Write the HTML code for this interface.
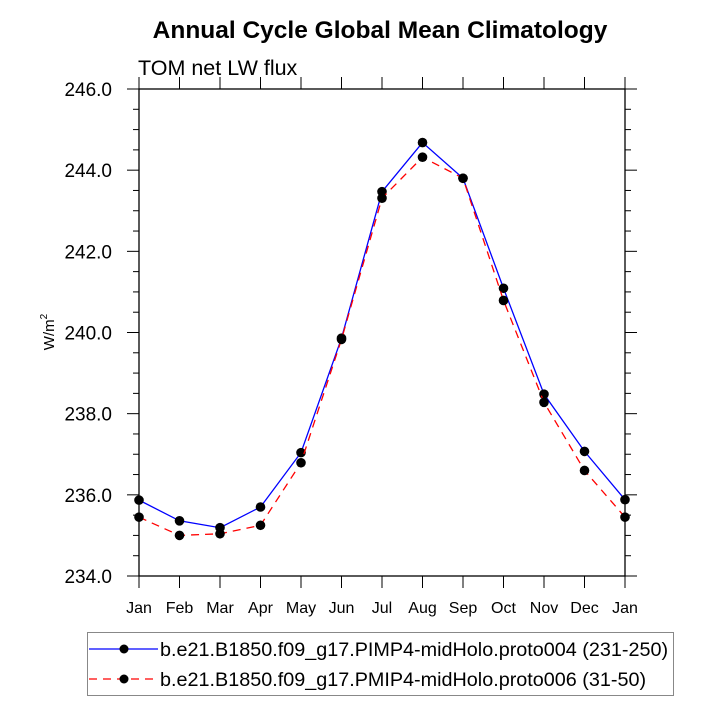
<!DOCTYPE html>
<html><head><meta charset="utf-8"><style>
body{margin:0;background:#fff}
svg{display:block;font-family:"Liberation Sans",Arial,sans-serif}
</style></head><body>
<svg id="chart" width="715" height="715" viewBox="0 0 715 715">
<text x="380" y="38" text-anchor="middle" font-size="24.5" font-weight="bold">Annual Cycle Global Mean Climatology</text>
<text x="138" y="75" font-size="21.5">TOM net LW flux</text>
<text transform="translate(54,332) rotate(-90)" text-anchor="middle" font-size="15">W/m<tspan dy="-7" font-size="10">2</tspan></text>
<g id="axes"></g>
<g id="series"></g>
<g>
<rect x="87.5" y="632.5" width="586" height="63" fill="none" stroke="#888" stroke-width="1"/>
<line x1="89" y1="649" x2="158" y2="649" stroke="#0000ff" stroke-width="1.3"/>
<circle cx="124" cy="649" r="4.5" fill="#000"/>
<text x="160" y="656" font-size="19.8">b.e21.B1850.f09_g17.PIMP4-midHolo.proto004 (231-250)</text>
<line x1="89" y1="679" x2="158" y2="679" stroke="#ff0000" stroke-width="1.3" stroke-dasharray="8,6"/>
<circle cx="124" cy="679" r="4.5" fill="#000"/>
<text x="160" y="686" font-size="19.8">b.e21.B1850.f09_g17.PMIP4-midHolo.proto006 (31-50)</text>
</g>
</svg>
<script>
const months=["Jan","Feb","Mar","Apr","May","Jun","Jul","Aug","Sep","Oct","Nov","Dec","Jan"];
const yTicks=[234,236,238,240,242,244,246];
const yTickLabels=["234.0","236.0","238.0","240.0","242.0","244.0","246.0"];
const proto004=[235.87,235.36,235.19,235.70,237.04,239.86,243.47,244.68,243.80,241.09,238.48,237.07,235.88];
const proto006=[235.45,235.00,235.04,235.25,236.79,239.83,243.31,244.32,243.80,240.79,238.28,236.60,235.45];
const L=139,R=625,T=89,B=576,yMin=234,yMax=246;
const NS="http://www.w3.org/2000/svg";
function xs(i){return L+(R-L)*i/(months.length-1);}
function ys(v){return B-(v-yMin)/(yMax-yMin)*(B-T);}
function mk(tag,attrs,parent){const e=document.createElementNS(NS,tag);for(const k in attrs)e.setAttribute(k,attrs[k]);parent.appendChild(e);return e;}
const ax=document.getElementById('axes');
const frame=mk('rect',{x:L,y:T,width:R-L,height:B-T,fill:'none',stroke:'#000','stroke-width':1.3},ax);


months.forEach((m,i)=>{
  const x=xs(i);
  mk('line',{x1:x,y1:B,x2:x,y2:B+12,stroke:'#000'},ax);
  mk('line',{x1:x,y1:T,x2:x,y2:T-12,stroke:'#000'},ax);
  const t=mk('text',{x:x,y:B+37,'text-anchor':'middle','font-size':16},ax);
  t.textContent=m;
  
  
});
for(let v=yMin;v<=yMax+1e-9;v+=0.5){
  const y=ys(v);const major=Math.abs(v/2-Math.round(v/2))<1e-6;const len=major?12:6;
  mk('line',{x1:L,y1:y,x2:L-len,y2:y,stroke:'#000'},ax);
  mk('line',{x1:R,y1:y,x2:R+len,y2:y,stroke:'#000'},ax);
}
yTicks.forEach((v,i)=>{
  const t=mk('text',{x:L-27,y:ys(v)+7,'text-anchor':'end','font-size':19},ax);
  t.textContent=yTickLabels[i];
  
  
});
const sg=document.getElementById('series');
function draw(vals,color,dash,name){
  const g=mk('g',{},sg);
  
  
  const pts=vals.map((v,i)=>xs(i)+','+ys(v)).join(' ');
  const a={points:pts,fill:'none',stroke:color,'stroke-width':1.3};
  if(dash)a['stroke-dasharray']=dash;
  mk('polyline',a,g);
  vals.forEach((v,i)=>{
    const c=mk('circle',{cx:xs(i),cy:ys(v),r:4.8,fill:'#000'},g);
    
    
  });
}
draw(proto004,'#0000ff',null,'series-proto004');
draw(proto006,'#ff0000','8,6','series-proto006');
</script>
</body></html>
